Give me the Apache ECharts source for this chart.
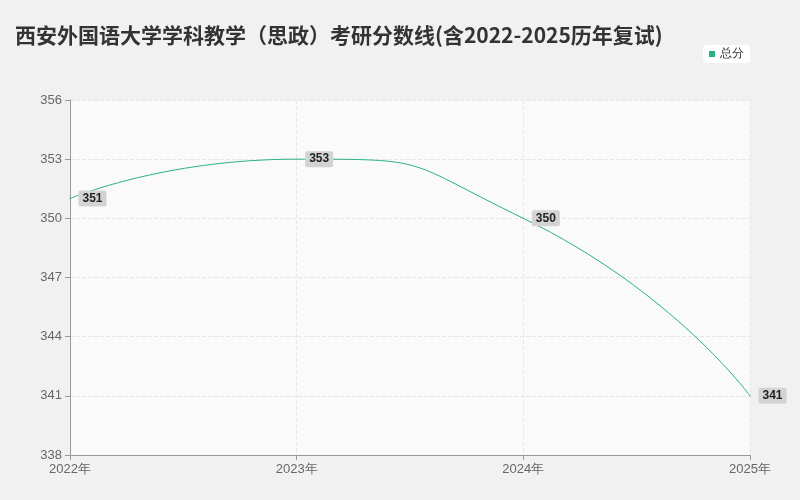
<!DOCTYPE html>
<html><head><meta charset="utf-8">
<script src="https://cdn.jsdelivr.net/npm/echarts@6/dist/echarts.min.js"></script>
<style>html,body{margin:0;padding:0;background:#fff}#c{width:800px;height:500px}</style>
</head><body><div id="c"></div>
<script>
const categories = ['2022年','2023年','2024年','2025年'];
const totalScores = [351, 353, 350, 341];
const chart = echarts.init(document.getElementById('c'));
chart.setOption({
  backgroundColor: '#f1f1f1',
  title: {text: '西安外国语大学学科教学（思政）考研分数线(含2022-2025历年复试)', left: 10, top: 20,
    textStyle: {fontSize: 21, fontWeight: 'bold', color: '#333', fontFamily: 'Noto Sans CJK SC'}},
  legend: {data: ['总分'], right: 50, top: 45, backgroundColor: '#fff', borderRadius: 3, padding: [3,6],
    icon: 'rect', itemWidth: 6, itemHeight: 6, textStyle: {fontSize: 12, color: '#333'}},
  grid: {left: 70, right: 50, top: 100, bottom: 45, show: true, backgroundColor: '#fafafa', borderWidth: 0},
  xAxis: {type: 'category', data: categories, boundaryGap: false,
    axisLine: {lineStyle: {color: '#999'}}, axisTick: {show: true, lineStyle: {color: '#999'}},
    axisLabel: {color: '#666', fontSize: 13},
    splitLine: {show: true, lineStyle: {type: 'dashed', color: '#e6e6e6'}}},
  yAxis: {type: 'value', min: 338, max: 356, interval: 3,
    axisLine: {show: true, lineStyle: {color: '#999'}}, axisTick: {show: true},
    axisLabel: {color: '#666', fontSize: 13},
    splitLine: {lineStyle: {type: 'dashed', color: '#e6e6e6'}}},
  series: [{name: '总分', type: 'line', smooth: 0.6, data: totalScores, symbol: 'circle', symbolSize: 1,
    itemStyle: {color: '#2bb37f'}, lineStyle: {width: 1, color: '#2bb37f'},
    label: {show: true, position: 'right', distance: 8, fontSize: 12, fontWeight: 'bold', color: '#222',
      backgroundColor: '#d3d3d3', padding: [2,4], borderRadius: 2}}]
});
</script></body></html>
